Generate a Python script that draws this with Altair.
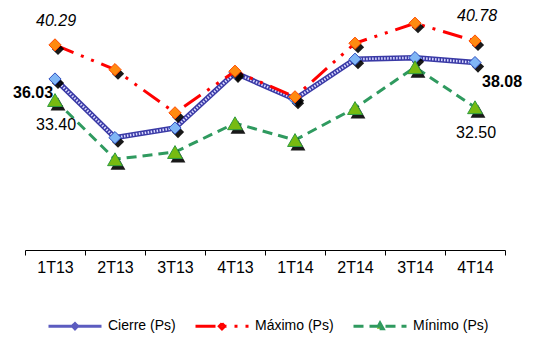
import altair as alt
import pandas as pd

quarters = ["1T13", "2T13", "3T13", "4T13", "1T14", "2T14", "3T14", "4T14"]
cierre = [36.03, 28.7, 29.9, 36.8, 33.5, 38.5, 38.7, 38.08]
maximo = [40.29, 37.2, 31.8, 37.0, 33.8, 40.5, 43.0, 40.78]
minimo = [33.40, 26.0, 26.9, 30.5, 28.4, 32.4, 37.5, 32.50]
series_names = ["Cierre (Ps)", "Máximo (Ps)", "Mínimo (Ps)"]

rows = []
for name, vals in zip(series_names, [cierre, maximo, minimo]):
    for q, v in zip(quarters, vals):
        rows.append({"trimestre": q, "serie": name, "valor": v})
df = pd.DataFrame(rows)

FONT = "Liberation Sans"

X = alt.X(
    "trimestre:N",
    sort=quarters,
    bandPosition=0.5,
    scale=alt.Scale(type="band", domain=quarters, paddingInner=0, paddingOuter=0),
    axis=alt.Axis(
        title=None, labelAngle=0, tickBand="extent", grid=False,
        domainColor="black", tickColor="black", tickSize=5, domainWidth=1, tickWidth=1,
        labelFont=FONT, labelFontSize=16, labelColor="black", labelPadding=4,
    ),
)
Y = alt.Y("valor:Q", scale=alt.Scale(domain=[14.655, 44.905], nice=False, zero=False), axis=None)


def base(name):
    return alt.Chart(df).transform_filter(alt.datum.serie == name).encode(x=X, y=Y)


layers = []
# Cierre
b = base(series_names[0])
layers += [
    b.mark_line(color="#3a3aa6", strokeWidth=5.5),
    b.mark_line(color="#d8d8ff", strokeWidth=2.5, strokeDash=[1.5, 1.5]),
    b.mark_point(shape="diamond", filled=True, color="black", size=150, xOffset=3, yOffset=4, opacity=0.9),
    b.mark_point(shape="diamond", filled=True, fill="#80b6f5", stroke="#2f4fbf", strokeWidth=1, size=150, opacity=1),
]
# Máximo
b = base(series_names[1])
layers += [
    b.mark_line(color="#ff0000", strokeWidth=3, strokeDash=[20, 8, 3, 8, 3, 8]),
    b.mark_point(shape="diamond", filled=True, color="black", size=150, xOffset=3, yOffset=4, opacity=0.9),
    b.mark_point(shape="diamond", filled=True, fill="#ff8a10", stroke="#ff4a00", strokeWidth=1, size=150, opacity=1),
]
# Mínimo
b = base(series_names[2])
layers += [
    b.mark_line(color="#2f9a5f", strokeWidth=3, strokeDash=[10, 6]),
    b.mark_point(shape="triangle-up", filled=True, color="black", size=220, xOffset=3, yOffset=4, opacity=0.9),
    b.mark_point(shape="triangle-up", filled=True, fill="#77bb11", stroke="#2f9a3f", strokeWidth=1, size=220, opacity=1),
]


def label(name, q, dx, dy, weight="normal", style="normal"):
    return (
        alt.Chart(df)
        .transform_filter((alt.datum.serie == name) & (alt.datum.trimestre == q))
        .mark_text(font=FONT, fontSize=16, color="black", dx=dx, dy=dy,
                   fontWeight=weight, fontStyle=style, align="center", baseline="middle")
        .encode(x=X, y=Y, text=alt.Text("valor:Q", format=".2f"))
    )


layers += [
    label(series_names[1], quarters[0], 1, -24, style="italic"),
    label(series_names[1], quarters[-1], 2, -25, style="italic"),
    label(series_names[0], quarters[0], -22, 14, weight="bold"),
    label(series_names[0], quarters[-1], 27, 19, weight="bold"),
    label(series_names[2], quarters[0], 1, 25),
    label(series_names[2], quarters[-1], 1, 26),
]

# legend-only layer (no marks drawn)
legend_paths = [
    "M-1,0H1M0,-0.1L0.1,0L0,0.1L-0.1,0Z",
    "M-1,0H1M0,-0.1L0.1,0L0,0.1L-0.1,0Z",
    "M-1,0H1M0,-0.12L0.12,0.09L-0.12,0.09Z",
]
lg = alt.Legend(
    title=None, orient="none", legendX=22, legendY=290, direction="horizontal",
    columnPadding=13, labelFont=FONT, labelFontSize=14, labelColor="black",
    labelOffset=5, symbolSize=2809, symbolStrokeWidth=3, padding=0,
)
legend_layer = (
    alt.Chart(df)
    .transform_filter("false")
    .mark_point(filled=True, opacity=1)
    .encode(
        x=X, y=Y,
        shape=alt.Shape("serie:N", scale=alt.Scale(domain=series_names, range=legend_paths), legend=lg),
        fill=alt.Fill("serie:N", scale=alt.Scale(domain=series_names, range=["#ffffff", "#ff8a10", "#77bb11"]), legend=lg),
        stroke=alt.Stroke("serie:N", scale=alt.Scale(domain=series_names, range=["#5c5cc0", "#ff0000", "#2f9a5f"]), legend=lg),
        strokeDash=alt.StrokeDash("serie:N", scale=alt.Scale(domain=series_names, range=[[1, 0], [20, 8, 3, 8, 3, 8], [10, 6]]), legend=lg),
    )
)
layers.append(legend_layer)

chart = (
    alt.layer(*layers)
    .properties(
        width=480, height=242,
        autosize=alt.AutoSizeParams(type="none"),
        padding={"left": 17, "top": 0, "right": 25, "bottom": 84},
    )
    .configure_view(stroke=None)
)

chart.save("out.html", embed_options={"renderer": "svg", "actions": False})
